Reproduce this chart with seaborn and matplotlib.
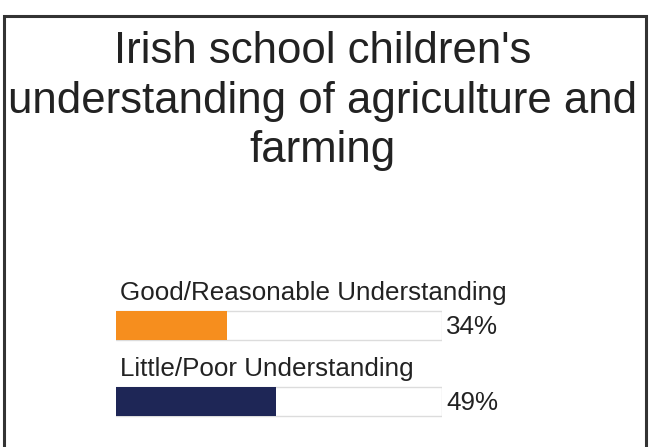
import matplotlib
matplotlib.use("Agg")
import matplotlib.pyplot as plt
import seaborn as sns
import pandas as pd
from matplotlib.patches import Rectangle

categories = ["Good/Reasonable Understanding", "Little/Poor Understanding"]
values = [34, 49]
value_labels = ["34%", "49%"]
bar_colors = ["#F68E1E", "#1E2656"]
full_scale = 100

title = "Irish school children's\nunderstanding of agriculture and\nfarming"

sns.set_theme(style="white")
plt.rcParams["font.family"] = ["Liberation Sans", "DejaVu Sans"]

W, H = 649, 447
fig = plt.figure(figsize=(W / 100, H / 100), dpi=100)
fig.patch.set_facecolor("white")

# outer frame (open at the bottom edge of the canvas)
frame = Rectangle((3.5 / W, -0.05), (646 - 3.5) / W, (H - 15.5) / H + 0.05,
                  transform=fig.transFigure, fill=False,
                  edgecolor="#333333", linewidth=2.2, clip_on=False)
fig.patches.append(frame)

fig.text(323 / W, 1 - 101 / H, title, ha="center", va="center",
         fontsize=31.5, color="#222222", linespacing=1.28)

# axes: x 0..100 maps to px 116..442, category rows 76 px apart
x0, x1 = 116, 442
row = 76
top = 325.5 - 0.5 * row
bottom = 401.5 + 0.5 * row
ax = fig.add_axes([x0 / W, 1 - bottom / H, (x1 - x0) / W, (bottom - top) / H])

df = pd.DataFrame({"category": categories, "value": values,
                   "track": [full_scale] * len(categories)})

sns.barplot(data=df, x="track", y="category", color="white", width=0.38,
            edgecolor="#dcdcdc", linewidth=1.0, saturation=1, ax=ax, zorder=1)
sns.barplot(data=df, x="value", y="category", hue="category",
            palette=bar_colors, width=0.38, legend=False, saturation=1,
            ax=ax, edgecolor="none", zorder=2)

ax.set_xlim(0, full_scale)
ax.set_ylim(1.5, -0.5)
ax.axis("off")

for i, (cat, lab) in enumerate(zip(categories, value_labels)):
    ax.text(1.2, i - 0.43, cat, ha="left", va="center", fontsize=18.7,
            color="#222222", clip_on=False)
    ax.text(full_scale + 1.2, i + 0.02, lab, ha="left", va="center",
            fontsize=18.7, color="#222222", clip_on=False)

fig.savefig("out.png", dpi=100, facecolor="white")
